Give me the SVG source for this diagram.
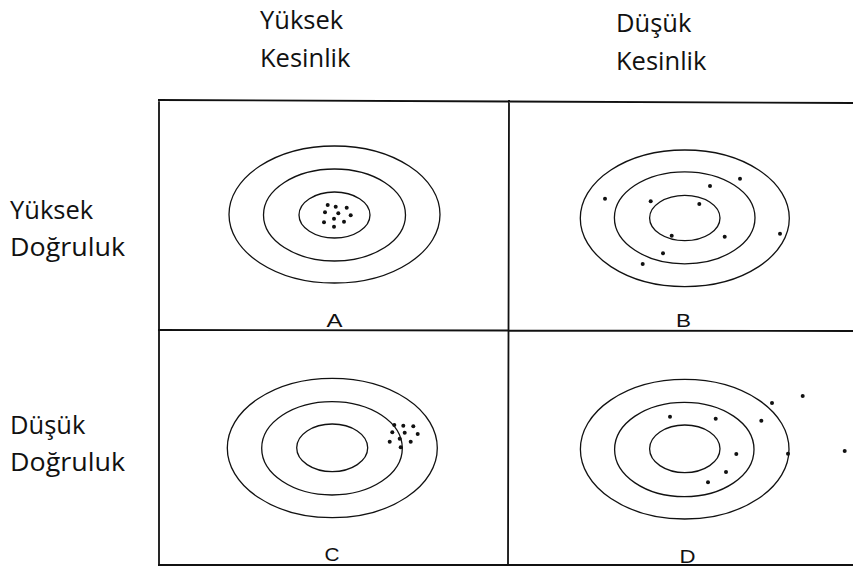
<svg xmlns="http://www.w3.org/2000/svg" width="853" height="569" viewBox="0 0 853 569">
<style>
.lbl{font-family:"Open Sans","Noto Sans","DejaVu Sans",sans-serif;font-size:25.5px;fill:#111}
.let{font-family:"Liberation Sans",Arial,sans-serif;font-size:18px;fill:#111;text-anchor:middle}
.ring{fill:none;stroke:#111;stroke-width:1.3}
.grid{fill:none;stroke:#111;stroke-width:1.8}
.dot{fill:#111}
</style>
<rect width="853" height="569" fill="#fff"/>
<g id="headers">
<text class="lbl" x="260" y="29">Yüksek</text>
<text class="lbl" x="260" y="67">Kesinlik</text>
<text class="lbl" x="616" y="32">Düşük</text>
<text class="lbl" x="616" y="70">Kesinlik</text>
<text class="lbl" x="10" y="219">Yüksek</text>
<text class="lbl" x="10" y="256" textLength="115" lengthAdjust="spacingAndGlyphs">Doğruluk</text>
<text class="lbl" x="10" y="434">Düşük</text>
<text class="lbl" x="10" y="471" textLength="115" lengthAdjust="spacingAndGlyphs">Doğruluk</text>
</g>
<g id="grid">
<path class="grid" d="M158,100 L853,103 M159,99 L159,565 M509,100 L508,565 M158,330 L853,331 M158,565 L853,565"/>
</g>
<g id="A">
<ellipse class="ring" cx="334.5" cy="214.5" rx="105.5" ry="68.5"/>
<ellipse class="ring" cx="334.5" cy="215" rx="71" ry="46"/>
<ellipse class="ring" cx="334.5" cy="215" rx="35.5" ry="23"/>
<g class="dot">
<circle cx="327.7" cy="205" r="2"/><circle cx="335.7" cy="206.7" r="2"/><circle cx="346.7" cy="207.7" r="2"/>
<circle cx="325" cy="212.3" r="2"/><circle cx="338.3" cy="213.3" r="2"/><circle cx="350.7" cy="215.3" r="2"/>
<circle cx="334" cy="218.7" r="2"/><circle cx="324" cy="222.3" r="2"/><circle cx="344" cy="221.7" r="2"/>
<circle cx="334" cy="226.7" r="2"/>
</g>
<text class="let" x="334.5" y="327" textLength="16" lengthAdjust="spacingAndGlyphs">A</text>
</g>
<g id="B">
<ellipse class="ring" cx="684.8" cy="218.3" rx="104.5" ry="68.3"/>
<ellipse class="ring" cx="684.7" cy="217.8" rx="70.3" ry="46"/>
<ellipse class="ring" cx="684.8" cy="218" rx="35.2" ry="22.7"/>
<g class="dot">
<circle cx="605" cy="198.7" r="2"/><circle cx="650.7" cy="201.3" r="2"/><circle cx="699.3" cy="204" r="2"/>
<circle cx="710" cy="186" r="2"/><circle cx="740" cy="178.7" r="2"/><circle cx="780" cy="233.7" r="2"/>
<circle cx="724.7" cy="236.7" r="2"/><circle cx="671.7" cy="235.7" r="2"/><circle cx="663" cy="253.3" r="2"/>
<circle cx="642.7" cy="264" r="2"/>
</g>
<text class="let" x="683.5" y="327" textLength="15" lengthAdjust="spacingAndGlyphs">B</text>
</g>
<g id="C">
<ellipse class="ring" cx="332.3" cy="448" rx="105" ry="69.7"/>
<ellipse class="ring" cx="332" cy="448.3" rx="70.3" ry="46.7"/>
<ellipse class="ring" cx="332.2" cy="447.8" rx="35.5" ry="23.8"/>
<g class="dot">
<circle cx="394.3" cy="425" r="2"/><circle cx="403.3" cy="425.7" r="2"/><circle cx="413.3" cy="426.3" r="2"/>
<circle cx="392.3" cy="432.3" r="2"/><circle cx="404.7" cy="432.7" r="2"/><circle cx="417.7" cy="434" r="2"/>
<circle cx="399.7" cy="438.7" r="2"/><circle cx="389.7" cy="441.7" r="2"/><circle cx="410.7" cy="441.7" r="2"/>
<circle cx="400.7" cy="447.3" r="2"/>
</g>
<text class="let" x="332" y="561" textLength="15" lengthAdjust="spacingAndGlyphs">C</text>
</g>
<g id="D">
<ellipse class="ring" cx="684.7" cy="449.2" rx="104.3" ry="69.8"/>
<ellipse class="ring" cx="684.3" cy="449.5" rx="69.7" ry="47.2"/>
<ellipse class="ring" cx="684.8" cy="448.8" rx="35.2" ry="23.8"/>
<g class="dot">
<circle cx="670" cy="416.7" r="2"/><circle cx="715.7" cy="418.7" r="2"/><circle cx="761.3" cy="420.7" r="2"/>
<circle cx="772" cy="403" r="2"/><circle cx="802.7" cy="396" r="2"/><circle cx="844.7" cy="451" r="2"/>
<circle cx="788" cy="453.7" r="2"/><circle cx="736.3" cy="454" r="2"/><circle cx="726" cy="472" r="2"/>
<circle cx="708" cy="482.3" r="2"/>
</g>
<text class="let" x="687.5" y="562.5" textLength="16" lengthAdjust="spacingAndGlyphs">D</text>
</g>
</svg>
